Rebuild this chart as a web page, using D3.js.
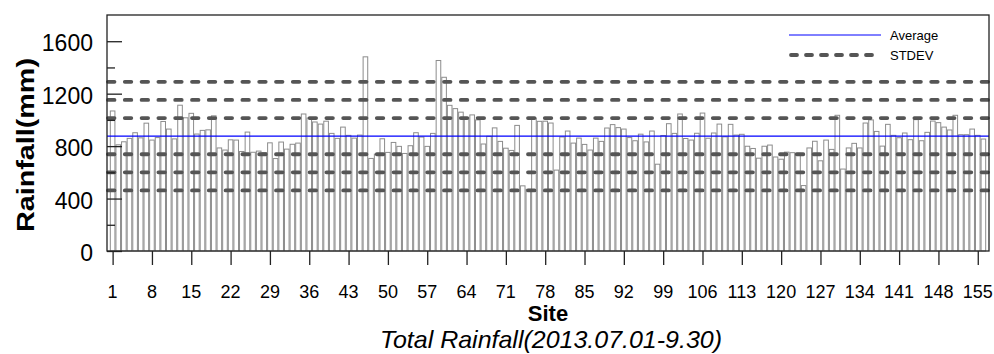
<!DOCTYPE html>
<html><head><meta charset="utf-8">
<script src="https://cdn.jsdelivr.net/npm/d3@7"></script>
<style>body{margin:0;background:#fff} svg{display:block} text{font-family:Arial,"Liberation Sans",sans-serif}</style>
</head><body><svg id="c" width="994" height="354"></svg>
<script>
// Total rainfall per site (mm), sites 1..156
const rainfall = [
 1068, 810, 833, 859, 902, 863, 975, 846, 865, 988,
 930, 855, 1112, 1016, 1050, 892, 920, 924, 1031, 786,
 770, 848, 846, 759, 907, 753, 762, 750, 825, 705,
 831, 777, 814, 823, 1045, 1014, 984, 968, 990, 897,
 859, 945, 882, 861, 884, 1481, 706, 739, 856, 752,
 828, 798, 744, 803, 902, 869, 798, 897, 1453, 1325,
 1111, 1086, 1059, 1016, 1038, 1000, 816, 875, 939, 836,
 784, 767, 958, 497, 470, 1013, 989, 990, 976, 617,
 870, 915, 823, 861, 813, 770, 861, 836, 938, 964,
 941, 930, 865, 841, 891, 832, 915, 662, 881, 971,
 897, 1045, 858, 846, 898, 1052, 860, 900, 968, 871,
 966, 884, 890, 799, 782, 708, 799, 808, 717, 700,
 754, 750, 745, 499, 786, 837, 688, 846, 775, 1035,
 625, 786, 821, 786, 976, 1000, 912, 800, 966, 882,
 864, 900, 849, 1002, 841, 905, 991, 979, 945, 923,
 1035, 887, 887, 930, 882, 854
];
const xTickLabels = [1, 8, 15, 22, 29, 36, 43, 50, 57, 64, 71, 78, 85, 92, 99, 106, 113, 120, 127, 134, 141, 148, 155];
const yMajorTicks = [0, 400, 800, 1200, 1600];
const yMinorTicks = [200, 600, 1000, 1400];
const average = 876;
const stdev = 138;
const stdevMultipliers = [-3, -2, -1, 1, 2, 3];
const legendItems = ["Average", "STDEV"];

const svg = d3.select("#c");
svg.append("rect").attr("width", 994).attr("height", 354).attr("fill", "#fff");

const L = 107, R = 989, T = 15, B = 251;
const x = d3.scaleLinear().domain([0, rainfall.length + 1]).range([L, R]);
const y = d3.scaleLinear().domain([0, 1800]).range([B, T]);
const bw = (x(1) - x(0)) * 0.82;

// bars
svg.append("g").selectAll("rect").data(rainfall).join("rect")
  .attr("x", (d, i) => x(i + 1) - bw / 2)
  .attr("y", d => y(d))
  .attr("width", bw)
  .attr("height", d => y(0) - y(d))
  .attr("fill", "#fff")
  .attr("stroke", "#8c8c8c")
  .attr("stroke-width", 1);

// stdev lines
svg.append("g").selectAll("line").data(stdevMultipliers).join("line")
  .attr("x1", L + 1).attr("x2", R - 1)
  .attr("y1", k => y(average + k * stdev)).attr("y2", k => y(average + k * stdev))
  .attr("stroke", "#555").attr("stroke-width", 3.8)
  .attr("stroke-dasharray", "6.5,10.3").attr("stroke-linecap", "round");

// average line
svg.append("line").attr("x1", L).attr("x2", R)
  .attr("y1", y(average)).attr("y2", y(average))
  .attr("stroke", "#0000ff").attr("stroke-width", 1.2);

// frame
svg.append("rect").attr("x", L).attr("y", T).attr("width", R - L).attr("height", B - T)
  .attr("fill", "none").attr("stroke", "#222").attr("stroke-width", 1.3);

// y axis ticks (inward)
const yAxis = d3.axisRight(y).tickValues(yMajorTicks).tickSize(15).tickFormat("");
svg.append("g").attr("transform", `translate(${L},0)`).call(yAxis)
  .call(g => g.select(".domain").remove())
  .selectAll("line").attr("stroke", "#222").attr("stroke-width", 1.3);
const yAxisMinor = d3.axisRight(y).tickValues(yMinorTicks).tickSize(8).tickFormat("");
svg.append("g").attr("transform", `translate(${L},0)`).call(yAxisMinor)
  .call(g => g.select(".domain").remove())
  .selectAll("line").attr("stroke", "#222").attr("stroke-width", 1.3);
svg.append("g").selectAll("text").data(yMajorTicks).join("text")
  .attr("x", 93).attr("y", d => y(d) + 10)
  .attr("text-anchor", "end")
  .attr("font-size", 23).attr("fill", "#000").text(d => d);

// x axis ticks (outward)
const xAxis = d3.axisBottom(x).tickValues(xTickLabels).tickSize(14).tickFormat("");
svg.append("g").attr("transform", `translate(0,${B})`).call(xAxis)
  .call(g => g.select(".domain").remove())
  .selectAll("line").attr("stroke", "#222").attr("stroke-width", 1.3);
svg.append("g").selectAll("text").data(xTickLabels).join("text")
  .attr("x", d => x(d)).attr("y", 297.5)
  .attr("text-anchor", "middle")
  .attr("font-size", 18).attr("fill", "#000").text(d => d);

// titles
svg.append("text").attr("x", 548).attr("y", 321).attr("text-anchor", "middle")
  .attr("font-size", 22).attr("font-weight", "bold").text("Site");
svg.append("text").attr("x", 551).attr("y", 347.5).attr("text-anchor", "middle")
  .attr("font-size", 24).attr("font-style", "italic")
  .attr("textLength", 342).attr("lengthAdjust", "spacingAndGlyphs")
  .text("Total Rainfall(2013.07.01-9.30)");
svg.append("text").attr("transform", "translate(33.5,145) rotate(-90)").attr("text-anchor", "middle")
  .attr("font-size", 24).attr("font-weight", "bold")
  .attr("textLength", 174).attr("lengthAdjust", "spacingAndGlyphs").text("Rainfall(mm)");

// legend
const lg = svg.append("g");
lg.append("line").attr("x1", 789).attr("x2", 881).attr("y1", 35).attr("y2", 35)
  .attr("stroke", "#0000ff").attr("stroke-width", 1);
lg.append("line").attr("x1", 791).attr("x2", 881).attr("y1", 55).attr("y2", 55)
  .attr("stroke", "#555").attr("stroke-width", 3.8)
  .attr("stroke-dasharray", "6,9").attr("stroke-linecap", "round");
lg.selectAll("text").data(legendItems).join("text")
  .attr("x", 890).attr("y", (d, i) => 39.5 + i * 20)
  .attr("font-size", 13).attr("fill", "#000").text(d => d);
</script>
</body></html>
